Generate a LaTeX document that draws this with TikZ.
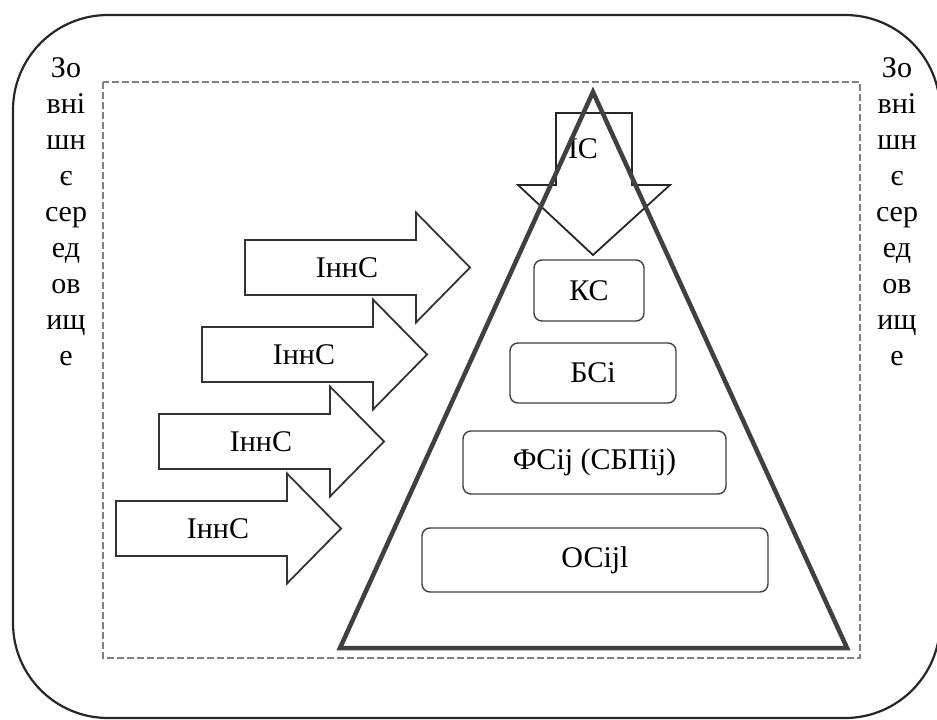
\documentclass[tikz,border=0pt]{standalone}
\usepackage{fontspec}
\setmainfont{Liberation Serif}
\usetikzlibrary{calc}
\tikzset{>=stealth,
  layerbox/.style={draw=black!75, line width=1.4pt, rounded corners=8pt, inner sep=0pt},
  innarrow/.style={draw=black!80, line width=1.8pt, line join=miter},
  envword/.style={anchor=base, inner sep=0pt}}

\begin{document}
\begin{tikzpicture}[x=1pt, y=-1pt, font=\fontsize{30}{36}\selectfont]
      \clip (0,0) rectangle (937,720);
      \useasboundingbox (0,0) rectangle (937,720);
      % outer environment and system border
      \draw[line width=2.2pt, black!85, rounded corners=95pt] (13,15) rectangle (940,718);
      \draw[line width=1.3pt, black!50, dash pattern=on 7pt off 3pt] (103,82) rectangle (860,658);
      % vertical words on both sides
      \foreach \w [count=\i] in {Зо,вні,шн,є,сер,ед,ов,ищ,е} {
        \node[envword] (envL\i) at (66,{77+36*(\i-1)}) {\w};
        \node[envword] (envR\i) at (897,{77+36*(\i-1)}) {\w};
      }
      % downward arrow of the top level
      \draw[line width=1.8pt, black!85, line join=miter] (556,113) -- (632,113) -- (632,185) -- (670,185)
        -- (593,255) -- (518,185) -- (556,185) -- cycle;
      \node[inner sep=0pt] (is) at (583,149) {ІС};
      % pyramid
      \draw[line width=4.5pt, black!75, line join=miter] (593,92) -- (847,648) -- (340,648) -- cycle;
      % levels
      \node[layerbox, minimum width=110pt, minimum height=61pt] (ks) at (589,290.5) {КС};
      \node[layerbox, minimum width=166pt, minimum height=60pt] (bs) at (593,373) {БСі};
      \node[layerbox, minimum width=263pt, minimum height=63pt] (fs) at (594.5,462.5) {ФСij (СБПіj)};
      \node[layerbox, minimum width=346pt, minimum height=64pt] (os) at (595,560) {ОСijl};
      % incoming arrows
      \foreach \i in {0,...,3} {
        \begin{scope}[shift={({245-43*\i},{240+87*\i})}]
          \draw[innarrow] (0,0) -- (171,0) -- (171,-27.5) -- (225,27.5) -- (171,82.5) -- (171,55) -- (0,55) -- cycle;
          \node[inner sep=0pt] (inn\i) at (102,27.5) {ІннС};
        \end{scope}
      }
    \end{tikzpicture}
\end{document}
